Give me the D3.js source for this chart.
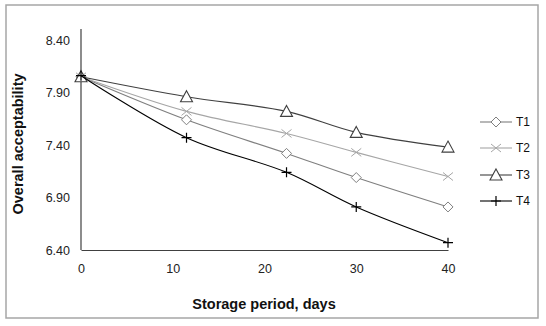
<!DOCTYPE html>
<html><head><meta charset="utf-8">
<script src="https://cdn.jsdelivr.net/npm/d3@7"></script>
<style>body{margin:0;background:#fff}svg{display:block}text{font-family:"Liberation Sans",Arial,sans-serif}</style>
</head><body>
<script>
const days = [0, 11.5, 22.4, 30, 40];
const seriesNames = ["T1", "T2", "T3", "T4"];
const T1 = [8.05, 7.64, 7.32, 7.09, 6.81];
const T2 = [8.05, 7.72, 7.51, 7.33, 7.10];
const T3 = [8.05, 7.86, 7.72, 7.52, 7.38];
const T4 = [8.06, 7.47, 7.14, 6.81, 6.47];
const xTicks = [0, 10, 20, 30, 40];
const yTicks = [6.40, 6.90, 7.40, 7.90, 8.40];

const W = 546, H = 326;
const svg = d3.select("body").append("svg").attr("width", W).attr("height", H);
svg.append("rect").attr("x", 6).attr("y", 5).attr("width", 532).attr("height", 313)
  .attr("fill", "#fff").attr("stroke", "#a6a6a6").attr("stroke-width", 1.5);

const x = d3.scaleLinear().domain([0, 40]).range([81, 448]);
const y = d3.scaleLinear().domain([6.4, 8.4]).range([250, 40]);

// axes
const gx = svg.append("g").attr("transform", "translate(0,250)")
  .call(d3.axisBottom(x).tickValues(xTicks).tickSize(0).tickPadding(14).tickFormat(d3.format("d")));
gx.select(".domain").attr("stroke", "#404040").attr("stroke-width", 1.2);
gx.selectAll("text").attr("font-size", 12.5).attr("fill", "#222").style("font-family", '"Liberation Sans",Arial,sans-serif');

const gy = svg.append("g").attr("transform", "translate(81,0)")
  .call(d3.axisLeft(y).tickValues(yTicks).tickSize(0).tickPadding(11).tickFormat(d3.format(".2f")));
gy.select(".domain").remove();
gy.selectAll("text").attr("font-size", 12.5).attr("fill", "#222").style("font-family", '"Liberation Sans",Arial,sans-serif');
svg.append("line").attr("x1", 81).attr("x2", 81).attr("y1", 29).attr("y2", 250)
  .attr("stroke", "#404040").attr("stroke-width", 1.2);

svg.append("text").attr("x", 264).attr("y", 309).attr("text-anchor", "middle")
  .attr("font-size", 14.5).attr("font-weight", "bold").attr("fill", "#111").text("Storage period, days");
svg.append("text").attr("transform", "translate(23,144) rotate(-90)").attr("text-anchor", "middle")
  .attr("font-size", 14.5).attr("font-weight", "bold").attr("fill", "#111").text("Overall acceptability");

const data = [T1, T2, T3, T4];
const colors = ["#7f7f7f", "#a6a6a6", "#404040", "#000000"];
const markers = ["diamond", "x", "triangle", "plus"];

function drawMarker(g, type, cx, cy, color) {
  if (type === "diamond") {
    g.append("path").attr("d", `M${cx},${cy-5}L${cx+5},${cy}L${cx},${cy+5}L${cx-5},${cy}Z`)
      .attr("fill", "#fff").attr("stroke", color).attr("stroke-width", 1);
  } else if (type === "triangle") {
    g.append("path").attr("d", `M${cx},${cy-6}L${cx+6},${cy+5}L${cx-6},${cy+5}Z`)
      .attr("fill", "#fff").attr("stroke", color).attr("stroke-width", 1.1);
  } else if (type === "x") {
    g.append("path").attr("d", `M${cx-5},${cy-4}L${cx+5},${cy+4}M${cx-5},${cy+4}L${cx+5},${cy-4}`)
      .attr("fill", "none").attr("stroke", color).attr("stroke-width", 1);
  } else {
    g.append("path").attr("d", `M${cx-5},${cy}L${cx+5},${cy}M${cx},${cy-5}L${cx},${cy+5}`)
      .attr("fill", "none").attr("stroke", color).attr("stroke-width", 1.2);
  }
}

const line = d3.line().x((d, i) => x(days[i])).y(d => y(d)).curve(d3.curveCatmullRom.alpha(0.5));
data.forEach((vals, k) => {
  const g = svg.append("g");
  g.append("path").datum(vals).attr("d", line).attr("fill", "none")
    .attr("stroke", colors[k]).attr("stroke-width", 1.1);
  vals.forEach((v, i) => drawMarker(g, markers[k], x(days[i]), y(v), colors[k]));
});

// legend
const legY = [122, 148, 175, 201];
seriesNames.forEach((name, k) => {
  const g = svg.append("g");
  g.append("line").attr("x1", 480).attr("x2", 512).attr("y1", legY[k]).attr("y2", legY[k])
    .attr("stroke", colors[k]).attr("stroke-width", 1.1);
  drawMarker(g, markers[k], 496, legY[k], colors[k]);
  g.append("text").attr("x", 516).attr("y", legY[k] + 4).attr("font-size", 12).attr("fill", "#111").text(name);
});
</script>
</body></html>
